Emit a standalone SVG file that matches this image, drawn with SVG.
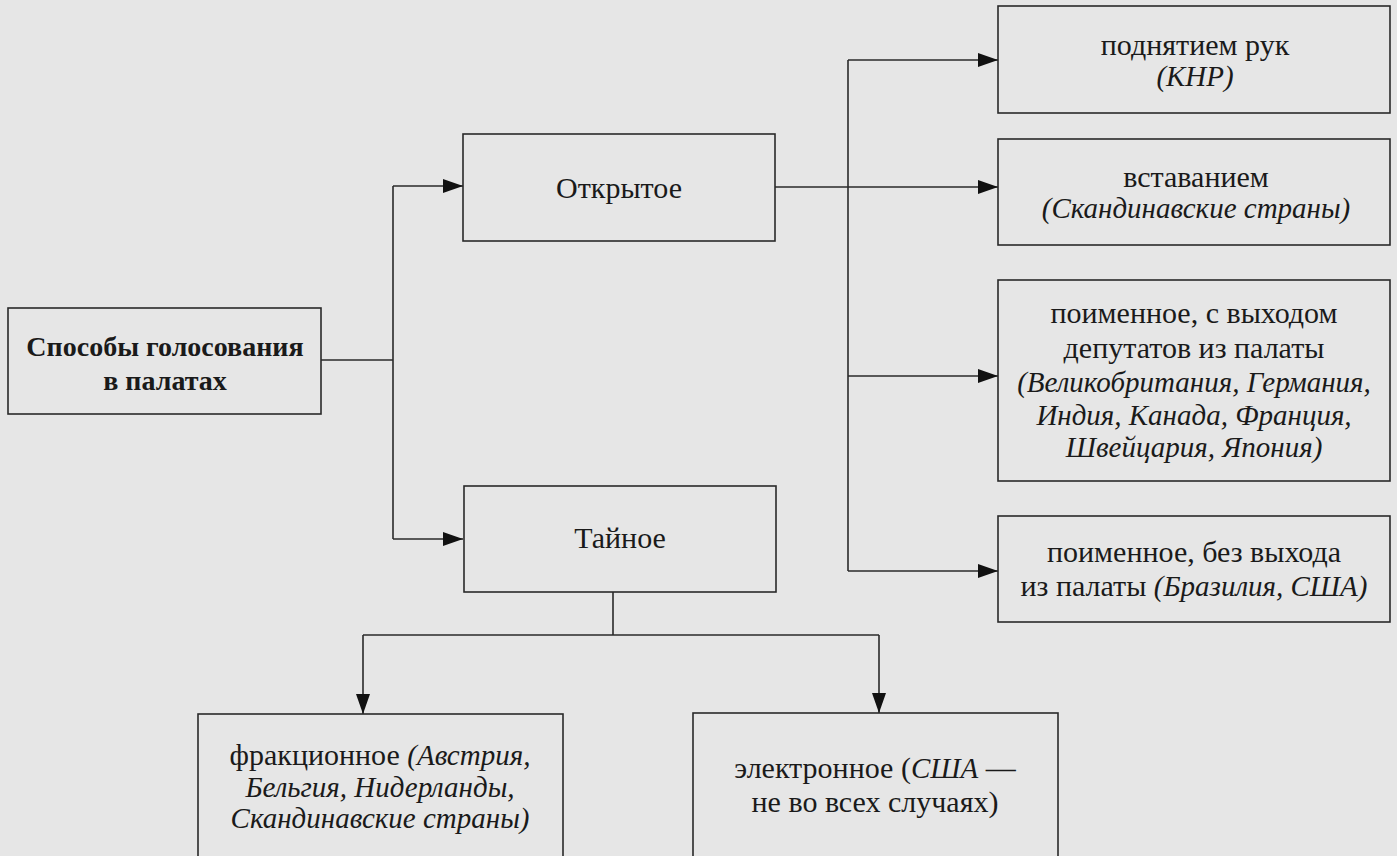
<svg xmlns="http://www.w3.org/2000/svg" width="1397" height="856" viewBox="0 0 1397 856">
<defs>
<marker id="arr" viewBox="0 0 20 14" refX="20" refY="7" markerWidth="20" markerHeight="14" markerUnits="userSpaceOnUse" orient="auto">
<path d="M0,0 L20,7 L0,14 z" fill="#111"/>
</marker>
<style>
.box{fill:#e6e6e6;stroke:#2a2a2a;stroke-width:1.6}
.t{font-family:"Liberation Serif","Times New Roman",serif;font-size:30px;fill:#1a1a1a;text-anchor:middle}
.b{font-weight:bold;font-size:28px}
.i{font-style:italic;font-size:29px}
.c{fill:none;stroke:#2a2a2a;stroke-width:1.6}
</style>
</defs>
<rect width="1397" height="856" fill="#e6e6e6"/>
<g id="connectors">
<path class="c" d="M321,360 H393"/>
<path class="c" d="M393,186 V539"/>
<path class="c" d="M393,186 H463" marker-end="url(#arr)"/>
<path class="c" d="M393,539 H463" marker-end="url(#arr)"/>
<path class="c" d="M775,187 H998" marker-end="url(#arr)"/>
<path class="c" d="M848,60 V571"/>
<path class="c" d="M848,60 H998" marker-end="url(#arr)"/>
<path class="c" d="M848,376 H998" marker-end="url(#arr)"/>
<path class="c" d="M848,571 H998" marker-end="url(#arr)"/>
<path class="c" d="M613,592 V635"/>
<path class="c" d="M363,635 H879"/>
<path class="c" d="M363,635 V714" marker-end="url(#arr)"/>
<path class="c" d="M879,635 V713" marker-end="url(#arr)"/>
</g>
<g id="main">
<rect class="box" x="8" y="308" width="313" height="106"/>
<text class="t b" x="165" y="356">Способы голосования</text>
<text class="t b" x="165" y="390">в палатах</text>
</g>
<g id="open">
<rect class="box" x="463" y="134" width="312" height="107"/>
<text class="t" x="619" y="198">Открытое</text>
</g>
<g id="secret">
<rect class="box" x="464" y="486" width="312" height="106"/>
<text class="t" x="620" y="548">Тайное</text>
</g>
<g id="hands">
<rect class="box" x="998" y="6" width="392" height="107"/>
<text class="t" x="1195" y="55">поднятием рук</text>
<text class="t i" x="1195" y="86">(КНР)</text>
</g>
<g id="standing">
<rect class="box" x="998" y="139" width="392" height="106"/>
<text class="t" x="1196" y="187">вставанием</text>
<text class="t i" x="1196" y="218">(Скандинавские страны)</text>
</g>
<g id="rollcall-exit">
<rect class="box" x="998" y="280" width="392" height="201"/>
<text class="t" x="1194" y="323">поименное, с выходом</text>
<text class="t" x="1194" y="358">депутатов из палаты</text>
<text class="t i" x="1194" y="392">(Великобритания, Германия,</text>
<text class="t i" x="1194" y="425">Индия, Канада, Франция,</text>
<text class="t i" x="1194" y="457">Швейцария, Япония)</text>
</g>
<g id="rollcall-noexit">
<rect class="box" x="998" y="516" width="392" height="106"/>
<text class="t" x="1194" y="562">поименное, без выхода</text>
<text class="t" x="1194" y="596">из палаты <tspan class="i">(Бразилия, США)</tspan></text>
</g>
<g id="faction">
<rect class="box" x="198" y="714" width="365" height="150"/>
<text class="t" x="380" y="765">фракционное <tspan class="i">(Австрия,</tspan></text>
<text class="t i" x="380" y="797">Бельгия, Нидерланды,</text>
<text class="t i" x="380" y="828">Скандинавские страны)</text>
</g>
<g id="electronic">
<rect class="box" x="693" y="713" width="365" height="150"/>
<text class="t" x="875" y="778">электронное (<tspan class="i">США</tspan> —</text>
<text class="t" x="875" y="812">не во всех случаях)</text>
</g>
</svg>
